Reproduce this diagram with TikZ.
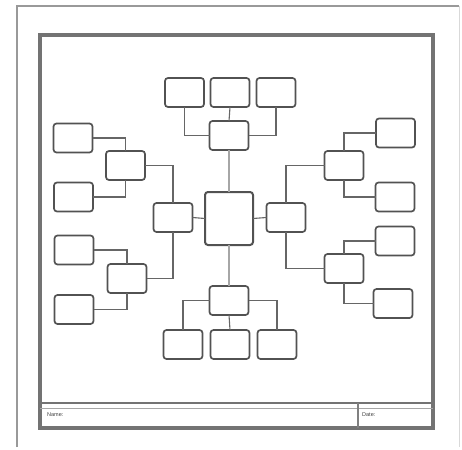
\documentclass[tikz,border=0pt]{standalone}
\usepackage{fontspec}
\setmainfont{Liberation Sans}
\begin{document}
\begin{tikzpicture}[x=1pt,y=-1pt,
  box/.style={draw=black!68, line width=1.7pt, rounded corners=3pt, fill=white,
    minimum width=39pt, minimum height=29pt, inner sep=0pt, outer sep=0pt},
  conn/.style={draw=black!60, line width=1.1pt},
  spine/.style={draw=black!35, line width=2.8pt},
  frame/.style={draw=black!55, line width=3.4pt},
  lbl/.style={font=\fontsize{5.5}{6}\selectfont, text=black!75, anchor=west, inner sep=0pt}]
\useasboundingbox (0,0) rectangle (462,449);
% page border
\draw[black!40, line width=1.2pt] (17,447) -- (17,6) -- (459,6);
\draw[black!15, line width=1pt] (459,6) -- (459,447);
% inner frame
\draw[frame] (40,35) rectangle (433,428);
\draw[frame, line width=2.8pt] (40,403) -- (433,403);
\draw[black!35, line width=0.8pt] (40,408.5) -- (433,408.5);
\draw[black!50, line width=1.4pt] (358,403) -- (358,428);
\node[lbl] (name) at (47,415) {Name:};
\node[lbl] (date) at (362,415) {Date:};
% nodes
\node[box, minimum width=48pt, minimum height=53pt, line width=2pt] (C) at (229,218.5) {};
\node[box] (TH) at (229,135.5) {};
\node[box] (T1) at (184.5,92.5) {};
\node[box] (T2) at (230,92.5) {};
\node[box] (T3) at (276,92.5) {};
\node[box] (BH) at (229,300.5) {};
\node[box] (B1) at (183,344.5) {};
\node[box] (B2) at (230,344.5) {};
\node[box] (B3) at (277,344.5) {};
\node[box] (LH) at (173,217.5) {};
\node[box] (RH) at (286,217.5) {};
\node[box] (LU) at (125.5,165.5) {};
\node[box] (LL) at (127,278.5) {};
\node[box] (L1) at (73,138) {};
\node[box] (L2) at (73.5,197) {};
\node[box] (L3) at (74,250) {};
\node[box] (L4) at (74,309.5) {};
\node[box] (RU) at (344,165.5) {};
\node[box] (RL) at (344,268.5) {};
\node[box] (R1) at (395.5,133) {};
\node[box] (R2) at (395,197) {};
\node[box] (R3) at (395,241) {};
\node[box] (R4) at (393,303.5) {};
% connectors
\draw[spine] (C.north) -- (TH.south);
\draw[spine] (C.south) -- (BH.north);
\draw[conn] (TH.north) -- (T2.south);
\draw[conn] (TH.west) -| (T1.south);
\draw[conn] (TH.east) -| (T3.south);
\draw[conn] (BH.south) -- (B2.north);
\draw[conn] (BH.west) -| (B1.north);
\draw[conn] (BH.east) -| (B3.north);
\draw[conn] (C.west) -- (LH.east);
\draw[conn] (C.east) -- (RH.west);
\draw[conn] (LH.north) |- (LU.east);
\draw[conn] (LH.south) |- (LL.east);
\draw[conn] (LU.north) |- (L1.east);
\draw[conn] (LU.south) |- (L2.east);
\draw[conn] (LL.north) |- (L3.east);
\draw[conn] (LL.south) |- (L4.east);
\draw[conn] (RH.north) |- (RU.west);
\draw[conn] (RH.south) |- (RL.west);
\draw[conn] (RU.north) |- (R1.west);
\draw[conn] (RU.south) |- (R2.west);
\draw[conn] (RL.north) |- (R3.west);
\draw[conn] (RL.south) |- (R4.west);
\end{tikzpicture}
\end{document}
